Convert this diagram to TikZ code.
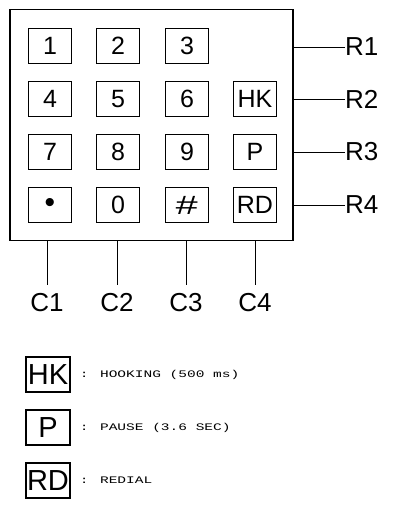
\documentclass[tikz,border=0pt]{standalone}
\usepackage{fontspec}
\setmainfont{Liberation Sans}
\newfontfamily\plotmono[FakeStretch=1.45]{Liberation Mono}
\newfontfamily\monof{Liberation Mono}
\begin{document}
\begin{tikzpicture}[x=1pt,y=-1pt,
  keybox/.style={draw,line width=1.1pt,minimum width=43pt,minimum height=35pt,inner sep=0pt,font=\fontsize{25}{25}\selectfont},
  legbox/.style={draw,line width=1.1pt,minimum width=44pt,minimum height=35pt,inner sep=0pt,font=\fontsize{29}{29}\selectfont},
  pinlabel/.style={inner sep=0pt,font=\fontsize{26}{26}\selectfont},
  legtext/.style={inner sep=0pt,anchor=west,font=\plotmono\fontsize{10}{10}\selectfont},
  wire/.style={line width=1pt}]
\useasboundingbox (0,0) rectangle (393,506);
% outer pad
\node[draw,line width=1.5pt,minimum width=283pt,minimum height=231pt,inner sep=0pt] (pad) at (151.5,125) {};
% keys
\node[keybox] (k11) at (50,46) {1};
\node[keybox] (k12) at (118,46) {2};
\node[keybox] (k13) at (187,46) {3};
\node[keybox] (k21) at (50,99) {4};
\node[keybox] (k22) at (118,99) {5};
\node[keybox] (k23) at (187,99) {6};
\node[keybox] (k24) at (255,99) {HK};
\node[keybox] (k31) at (50,152) {7};
\node[keybox] (k32) at (118,152) {8};
\node[keybox] (k33) at (187,152) {9};
\node[keybox] (k34) at (255,152) {P};
\node[keybox] (k41) at (50,205) {\fontsize{30}{30}\selectfont\raisebox{-6pt}{•}};
\node[keybox] (k42) at (118,205) {0};
\node[keybox] (k43) at (187,205) {\monof\scalebox{1.6}[1.1]{\#}};
\node[keybox] (k44) at (255,205) {RD};
% row labels
\node[pinlabel,anchor=west] (r1) at (345,47) {R1};
\node[pinlabel,anchor=west] (r2) at (345,99) {R2};
\node[pinlabel,anchor=west] (r3) at (345,152) {R3};
\node[pinlabel,anchor=west] (r4) at (345,205) {R4};
\draw[wire] (pad.east |- r1) -- (r1.west);
\draw[wire] (pad.east |- r2) -- (r2.west);
\draw[wire] (pad.east |- r3) -- (r3.west);
\draw[wire] (pad.east |- r4) -- (r4.west);
% column labels
\node[pinlabel,anchor=north] (c1) at (47,293) {C1};
\node[pinlabel,anchor=north] (c2) at (117,293) {C2};
\node[pinlabel,anchor=north] (c3) at (186,293) {C3};
\node[pinlabel,anchor=north] (c4) at (255,293) {C4};
\draw[wire] (pad.south -| c1) -- ([yshift=8pt]c1.north);
\draw[wire] (pad.south -| c2) -- ([yshift=8pt]c2.north);
\draw[wire] (pad.south -| c3) -- ([yshift=8pt]c3.north);
\draw[wire] (pad.south -| c4) -- ([yshift=8pt]c4.north);
% legend
\node[legbox] (lhk) at (48,374.5) {HK};
\node[legbox] (lp) at (48,427.5) {P};
\node[legbox] (lrd) at (48,480.5) {RD};
\node[legtext] (thk) at ([xshift=9pt]lhk.east) {: HOOKING (500 ms)};
\node[legtext] (tp) at ([xshift=9pt]lp.east) {: PAUSE (3.6 SEC)};
\node[legtext] (trd) at ([xshift=9pt]lrd.east) {: REDIAL};
\end{tikzpicture}
\end{document}
